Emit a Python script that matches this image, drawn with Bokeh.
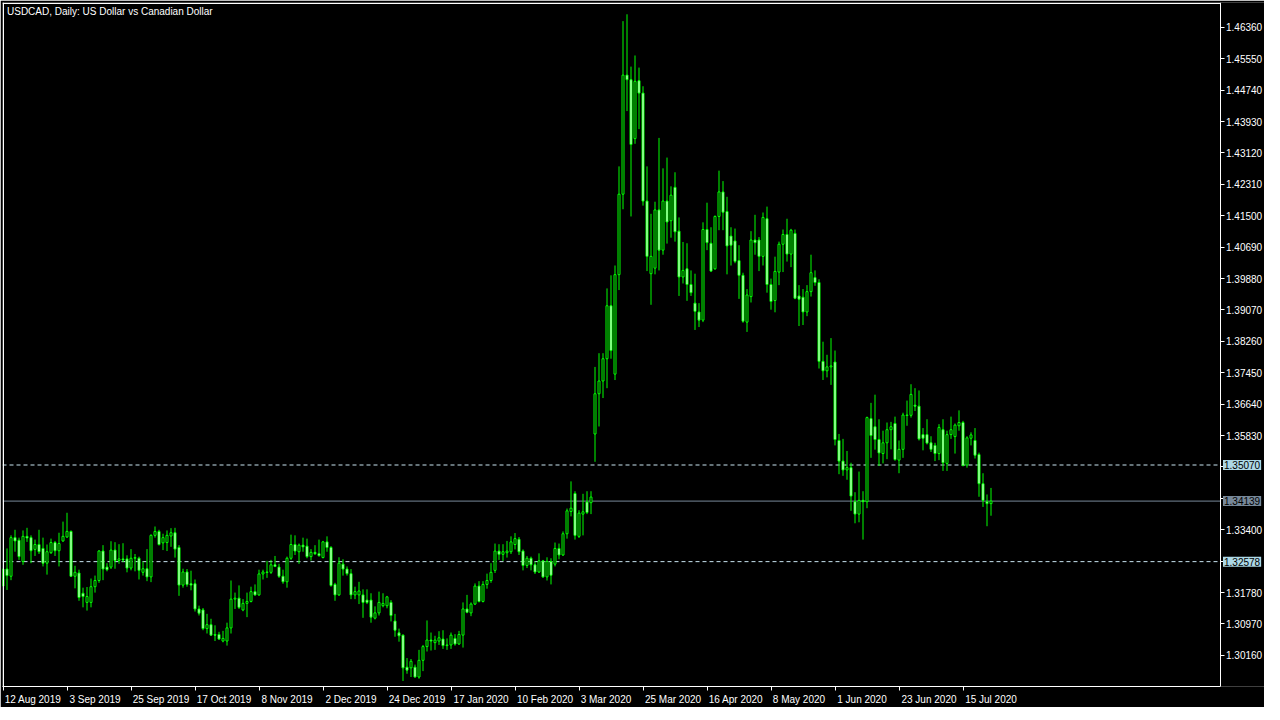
from bokeh.plotting import figure
from bokeh.models import (FixedTicker, PrintfTickFormatter, Label, Range1d, ColumnDataSource,
                          LinearAxis)
from bokeh.embed import file_html
from bokeh.resources import INLINE

# ---------------- data (USDCAD daily) ----------------
opens = [1.32387, 1.32387, 1.32201, 1.33197, 1.33129, 1.32581, 1.33230, 1.33197, 1.32893, 1.33019,
         1.32918, 1.32538, 1.32809, 1.33070, 1.32859, 1.33112, 1.33214, 1.33357, 1.32201, 1.32285,
         1.31762, 1.31526, 1.31526, 1.31931, 1.32091, 1.32851, 1.32437, 1.32437, 1.32876, 1.32606,
         1.32648, 1.32648, 1.32412, 1.32665, 1.32665, 1.32302, 1.32395, 1.32184, 1.33256, 1.33357,
         1.33062, 1.33070, 1.33239, 1.33323, 1.32943, 1.31973, 1.32311, 1.32007, 1.32007, 1.31357,
         1.31332, 1.30851, 1.30952, 1.30699, 1.30699, 1.30530, 1.30530, 1.30868, 1.31610, 1.31636,
         1.31332, 1.31501, 1.31551, 1.31804, 1.31720, 1.32260, 1.32311, 1.32302, 1.32496, 1.32437,
         1.32201, 1.32058, 1.32665, 1.33019, 1.32833, 1.33002, 1.32977, 1.32707, 1.32817, 1.32783,
         1.32682, 1.33087, 1.32943, 1.31990, 1.31720, 1.32513, 1.32386, 1.32268, 1.31720, 1.31720,
         1.31720, 1.31585, 1.31585, 1.31120, 1.31256, 1.31441, 1.31441, 1.31526, 1.31045, 1.30741,
         1.30682, 1.29855, 1.29838, 1.29855, 1.29602, 1.30032, 1.30386, 1.30555, 1.30488, 1.30530,
         1.30580, 1.30412, 1.30429, 1.30597, 1.30454, 1.30682, 1.31357, 1.31256, 1.31483, 1.31947,
         1.31551, 1.31990, 1.32091, 1.32352, 1.32850, 1.32766, 1.32808, 1.32833, 1.33019, 1.33154,
         1.32850, 1.32479, 1.32665, 1.32496, 1.32310, 1.32597, 1.32184, 1.32580, 1.32513, 1.32918,
         1.32749, 1.33297, 1.33871, 1.34335, 1.33230, 1.33804, 1.34116, 1.34099, 1.35870, 1.36908,
         1.37237, 1.37811, 1.39178, 1.37414, 1.39980, 1.42055, 1.45127, 1.45009, 1.43490, 1.44983,
         1.44663, 1.41878, 1.40005, 1.40148, 1.41650, 1.40612, 1.41878, 1.41372, 1.42232, 1.41102,
         1.39920, 1.40131, 1.39726, 1.39245, 1.39018, 1.38807, 1.41144, 1.40790, 1.40131, 1.41481,
         1.42114, 1.41608, 1.40975, 1.40849, 1.40342, 1.39963, 1.38756, 1.39414, 1.40874, 1.40874,
         1.40452, 1.41422, 1.39726, 1.39313, 1.40047, 1.40764, 1.41017, 1.40511, 1.41043, 1.39431,
         1.39398, 1.39018, 1.39542, 1.39904, 1.39778, 1.37744, 1.37500, 1.37601, 1.37727, 1.35703,
         1.35171, 1.34943, 1.35002, 1.34124, 1.33804, 1.34158, 1.34124, 1.36267, 1.36057, 1.35728,
         1.35365, 1.35643, 1.35981, 1.36141, 1.35196, 1.35474, 1.36360, 1.36352, 1.36614, 1.36588,
         1.35854, 1.35854, 1.35643, 1.35576, 1.35365, 1.35981, 1.35111, 1.35854, 1.35803, 1.36082,
         1.36166, 1.35070, 1.35761, 1.35703, 1.35340, 1.34588, 1.34124, 1.34074]
highs = [1.32412, 1.32918, 1.33256, 1.33399, 1.33197, 1.33382, 1.33450, 1.33256, 1.33146, 1.33399,
         1.33197, 1.33019, 1.33171, 1.33112, 1.33323, 1.33610, 1.33838, 1.33382, 1.32471, 1.32370,
         1.31906, 1.31923, 1.32142, 1.32218, 1.32876, 1.33003, 1.32538, 1.33104, 1.33079, 1.33028,
         1.33053, 1.32741, 1.32901, 1.32775, 1.32707, 1.32581, 1.32901, 1.33281, 1.33484, 1.33399,
         1.33298, 1.33382, 1.33441, 1.33450, 1.33003, 1.32395, 1.32387, 1.32344, 1.32117, 1.31442,
         1.31382, 1.31231, 1.31104, 1.30935, 1.30767, 1.30792, 1.31003, 1.32091, 1.31779, 1.31965,
         1.31610, 1.31779, 1.31931, 1.31990, 1.32370, 1.32370, 1.32598, 1.32623, 1.32724, 1.32522,
         1.32370, 1.32707, 1.33273, 1.33256, 1.33044, 1.33196, 1.33171, 1.32901, 1.33002, 1.33146,
         1.33112, 1.33230, 1.32977, 1.32032, 1.32690, 1.32639, 1.32454, 1.32386, 1.31931, 1.32057,
         1.31863, 1.31863, 1.31762, 1.31424, 1.31804, 1.31762, 1.31694, 1.31585, 1.31230, 1.30850,
         1.30699, 1.30091, 1.30066, 1.29922, 1.30302, 1.30429, 1.31061, 1.30749, 1.30665, 1.30783,
         1.30808, 1.30597, 1.30749, 1.30707, 1.30791, 1.31526, 1.31720, 1.31526, 1.32015, 1.32074,
         1.32074, 1.32268, 1.32538, 1.33044, 1.33027, 1.33027, 1.33112, 1.33230, 1.33314, 1.33213,
         1.32892, 1.32724, 1.32707, 1.32580, 1.32791, 1.32622, 1.32690, 1.32665, 1.33070, 1.33044,
         1.33357, 1.33947, 1.34648, 1.34394, 1.33905, 1.34327, 1.34394, 1.34394, 1.37600, 1.37954,
         1.37954, 1.39625, 1.39963, 1.40216, 1.42773, 1.46519, 1.46696, 1.45346, 1.45633, 1.45321,
         1.44840, 1.42773, 1.41549, 1.41861, 1.43507, 1.42722, 1.43000, 1.42258, 1.42621, 1.41456,
         1.40823, 1.40790, 1.40089, 1.40005, 1.39245, 1.41330, 1.41836, 1.41203, 1.41507, 1.42663,
         1.42393, 1.41988, 1.41203, 1.41169, 1.40739, 1.40030, 1.39608, 1.41102, 1.41524, 1.40950,
         1.41583, 1.41735, 1.39878, 1.40444, 1.40832, 1.41144, 1.41422, 1.41161, 1.41144, 1.39710,
         1.39609, 1.39710, 1.40495, 1.40090, 1.39862, 1.38251, 1.37913, 1.38343, 1.38023, 1.35871,
         1.35744, 1.35432, 1.35128, 1.34369, 1.34901, 1.34394, 1.36318, 1.36673, 1.36884, 1.36251,
         1.35955, 1.36166, 1.36183, 1.36318, 1.35703, 1.36419, 1.36732, 1.37154, 1.37052, 1.36993,
         1.36023, 1.36251, 1.35812, 1.35643, 1.36124, 1.36251, 1.35955, 1.36318, 1.36141, 1.36479,
         1.36209, 1.35812, 1.35913, 1.36023, 1.35390, 1.34858, 1.34310, 1.34479]
lows = [1.31931, 1.31847, 1.32100, 1.32834, 1.32623, 1.32496, 1.33087, 1.32538, 1.32724, 1.32775,
        1.32454, 1.32243, 1.32775, 1.32724, 1.32454, 1.33087, 1.33188, 1.32184, 1.31889, 1.31568,
        1.31399, 1.31315, 1.31399, 1.31779, 1.32032, 1.32100, 1.32328, 1.32387, 1.32395, 1.32522,
        1.32564, 1.32302, 1.32353, 1.32328, 1.32117, 1.32218, 1.32074, 1.32049, 1.33197, 1.32994,
        1.32876, 1.32851, 1.32960, 1.32682, 1.31695, 1.31906, 1.31931, 1.31838, 1.31290, 1.31188,
        1.30809, 1.30724, 1.30665, 1.30530, 1.30556, 1.30497, 1.30412, 1.30724, 1.31357, 1.31357,
        1.31298, 1.31146, 1.31526, 1.31695, 1.31695, 1.32117, 1.32159, 1.32260, 1.32437, 1.32159,
        1.32007, 1.31906, 1.32623, 1.32749, 1.32521, 1.32833, 1.32665, 1.32606, 1.32749, 1.32707,
        1.32665, 1.32833, 1.31931, 1.31568, 1.31694, 1.32217, 1.32217, 1.31610, 1.31610, 1.31483,
        1.31129, 1.31483, 1.31002, 1.31087, 1.31188, 1.31399, 1.31374, 1.31036, 1.30640, 1.30513,
        1.29500, 1.29686, 1.29602, 1.29585, 1.29559, 1.29754, 1.30260, 1.30285, 1.30302, 1.30429,
        1.30327, 1.30302, 1.30327, 1.30412, 1.30429, 1.30361, 1.31247, 1.31171, 1.31458, 1.31526,
        1.31526, 1.31880, 1.32032, 1.32285, 1.32622, 1.32597, 1.32682, 1.32774, 1.32892, 1.32749,
        1.32352, 1.32412, 1.32352, 1.32260, 1.32285, 1.32158, 1.32091, 1.31990, 1.32454, 1.32639,
        1.32724, 1.33171, 1.33745, 1.33146, 1.33188, 1.33255, 1.33804, 1.33804, 1.35153, 1.36064,
        1.36798, 1.37052, 1.37811, 1.37262, 1.39583, 1.41667, 1.44199, 1.41481, 1.43355, 1.43734,
        1.41760, 1.40072, 1.39203, 1.39988, 1.40089, 1.40494, 1.40781, 1.40933, 1.40832, 1.39431,
        1.39752, 1.39304, 1.39431, 1.38554, 1.38629, 1.38756, 1.40612, 1.40047, 1.40106, 1.41127,
        1.41127, 1.39988, 1.40216, 1.40275, 1.39355, 1.38739, 1.38503, 1.39262, 1.40494, 1.40072,
        1.40216, 1.39515, 1.39077, 1.39009, 1.39710, 1.40047, 1.40317, 1.40174, 1.39347, 1.38655,
        1.38681, 1.38909, 1.39415, 1.39693, 1.37559, 1.37263, 1.37331, 1.37137, 1.35576, 1.34833,
        1.34791, 1.34690, 1.33888, 1.33567, 1.33593, 1.33146, 1.33956, 1.35255, 1.35466, 1.35044,
        1.35112, 1.35221, 1.35474, 1.35179, 1.34858, 1.35255, 1.36082, 1.36293, 1.36462, 1.35703,
        1.35449, 1.35601, 1.35407, 1.35171, 1.35196, 1.34918, 1.34918, 1.35744, 1.35365, 1.35955,
        1.35044, 1.35002, 1.35576, 1.35238, 1.34251, 1.33989, 1.33491, 1.33762]
closes = [1.31948, 1.32218, 1.33197, 1.33112, 1.32707, 1.33230, 1.33188, 1.32859, 1.33019, 1.32834,
          1.32538, 1.32834, 1.33070, 1.32859, 1.33045, 1.33230, 1.33357, 1.32201, 1.32302, 1.31653,
          1.31678, 1.31678, 1.31931, 1.32091, 1.32851, 1.32387, 1.32370, 1.32876, 1.32606, 1.32648,
          1.32623, 1.32412, 1.32665, 1.32682, 1.32353, 1.32395, 1.32184, 1.33256, 1.33357, 1.33019,
          1.33197, 1.33256, 1.33323, 1.32901, 1.31973, 1.32311, 1.31990, 1.31973, 1.31357, 1.31248,
          1.30851, 1.30952, 1.30682, 1.30682, 1.30581, 1.30598, 1.30868, 1.31610, 1.31636, 1.31399,
          1.31501, 1.31551, 1.31804, 1.31720, 1.32260, 1.32311, 1.32302, 1.32496, 1.32454, 1.32201,
          1.32058, 1.32665, 1.33019, 1.32851, 1.33002, 1.32960, 1.32707, 1.32817, 1.32783, 1.32732,
          1.33087, 1.32943, 1.31964, 1.31720, 1.32538, 1.32386, 1.32268, 1.31720, 1.31804, 1.31821,
          1.31526, 1.31526, 1.31146, 1.31256, 1.31526, 1.31500, 1.31669, 1.31188, 1.30808, 1.30665,
          1.29838, 1.29779, 1.30007, 1.29602, 1.30032, 1.30386, 1.30555, 1.30530, 1.30555, 1.30614,
          1.30412, 1.30429, 1.30682, 1.30454, 1.30699, 1.31357, 1.31272, 1.31483, 1.31947, 1.31551,
          1.31990, 1.32091, 1.32302, 1.32850, 1.32766, 1.32833, 1.32850, 1.33087, 1.33171, 1.32833,
          1.32479, 1.32665, 1.32496, 1.32310, 1.32597, 1.32184, 1.32580, 1.32226, 1.32918, 1.32749,
          1.33297, 1.33888, 1.33956, 1.33255, 1.33829, 1.33863, 1.33846, 1.34243, 1.36908, 1.37237,
          1.37811, 1.39178, 1.38022, 1.39980, 1.42055, 1.45127, 1.45009, 1.43338, 1.44966, 1.44663,
          1.41878, 1.40452, 1.40452, 1.41650, 1.40612, 1.41878, 1.41338, 1.42030, 1.41085, 1.39920,
          1.40089, 1.39726, 1.39515, 1.39034, 1.38807, 1.41144, 1.40806, 1.40072, 1.41481, 1.42114,
          1.41591, 1.40722, 1.40739, 1.40325, 1.39963, 1.38781, 1.39456, 1.40874, 1.40806, 1.40452,
          1.41456, 1.39726, 1.39288, 1.40064, 1.40764, 1.41017, 1.40511, 1.41127, 1.39372, 1.39347,
          1.39018, 1.39542, 1.40031, 1.39778, 1.37744, 1.37500, 1.37601, 1.37626, 1.35728, 1.35171,
          1.34943, 1.35002, 1.34268, 1.33804, 1.34158, 1.34124, 1.36293, 1.35829, 1.35728, 1.35382,
          1.35643, 1.35981, 1.36057, 1.35213, 1.35474, 1.36360, 1.36352, 1.36892, 1.36588, 1.35744,
          1.35761, 1.35635, 1.35474, 1.35365, 1.36040, 1.35128, 1.35854, 1.35981, 1.36099, 1.36166,
          1.35053, 1.35770, 1.35846, 1.35323, 1.34588, 1.34158, 1.34074, 1.34139]

date_labels = ["12 Aug 2019", "3 Sep 2019", "25 Sep 2019", "17 Oct 2019", "8 Nov 2019",
               "2 Dec 2019", "24 Dec 2019", "17 Jan 2020", "10 Feb 2020", "3 Mar 2020",
               "25 Mar 2020", "16 Apr 2020", "8 May 2020", "1 Jun 2020", "23 Jun 2020",
               "15 Jul 2020"]
date_bars = [0, 16, 32, 48, 64, 80, 96, 112, 128, 144, 160, 176, 192, 208, 224, 240]

price_ticks = [1.46360, 1.45550, 1.44740, 1.43930, 1.43120, 1.42310, 1.41500, 1.40690,
               1.39880, 1.39070, 1.38260, 1.37450, 1.36640, 1.35830, 1.35020, 1.34210,
               1.33400, 1.32590, 1.31780, 1.30970, 1.30160]
hidden_ticks = [1.35020, 1.34210, 1.32590]      # covered by the price tags

dashed_levels = [1.35070, 1.32578]
bid_level = 1.34139
chart_title = "USDCAD, Daily:  US Dollar vs Canadian Dollar"

# ---------------- figure ----------------
GREEN = "#00ff00"
FONT = "Liberation Sans"
FW, FH = 1262, 684
PXB = 4.0                          # pixels per bar
X0 = -0.125
X1 = X0 + FW / PXB
XB = X0 + 1217.5 / PXB             # chart border (price scale starts right of it)
Y0, Y1 = 1.29357, 1.47000
DY = (Y1 - Y0) / FH                # one pixel in price units

p = figure(frame_width=FW, frame_height=FH,
           x_range=Range1d(X0, X1), y_range=Range1d(Y0, Y1),
           y_axis_location=None, title=None,
           output_backend="svg", toolbar_location=None,
           min_border_left=2, min_border_top=2, min_border_right=0, min_border_bottom=0)
p.background_fill_color = "black"
p.border_fill_color = "black"
p.outline_line_color = None
p.grid.visible = False
xa = p.below[0]                    # the date axis

idx = list(range(len(opens)))
body_top = [max(o, c) for o, c in zip(opens, closes)]
body_bot = [min(o, c) for o, c in zip(opens, closes)]
body_bot = [b if t - b > DY * 0.5 else t - DY * 0.5 for t, b in zip(body_top, body_bot)]
fills = ["black" if c >= o else "white" for o, c in zip(opens, closes)]
src = ColumnDataSource(dict(x=idx, high=highs, low=lows, top=body_top, bot=body_bot, fill=fills))

# level lines (stop at the chart border)
p.segment(x0=[X0] * 2, y0=dashed_levels, x1=[XB] * 2, y1=dashed_levels,
          line_color="#c8e4f0", line_dash="4 3", line_width=1)
p.segment(x0=[X0], y0=[bid_level], x1=[XB], y1=[bid_level], line_color="#778899", line_width=1)

p.segment(x0="x", y0="low", x1="x", y1="high", source=src, line_color=GREEN, line_width=1)
p.vbar(x="x", width=0.5, top="top", bottom="bot", source=src,
       fill_color="fill", line_color=GREEN, line_width=1)


def border_axis(loc, bounds):
    return LinearAxis(fixed_location=loc, bounds=bounds,
                      ticker=FixedTicker(ticks=[], minor_ticks=[]),
                      axis_line_color="white", major_tick_line_color=None,
                      minor_tick_line_color=None, major_label_text_alpha=0)


# left and top border lines of the chart box
p.add_layout(border_axis(X0 + 0.125, (Y0, Y1)), "left")
p.add_layout(border_axis(Y1 - DY * 0.5, (X0, XB)), "above")

# right price scale, drawn at the chart border
ya = LinearAxis(fixed_location=XB, bounds=(Y0, Y1))
ya.ticker = FixedTicker(ticks=price_ticks, minor_ticks=[])
ya.formatter = PrintfTickFormatter(format="%.5f")
ya.major_label_overrides = {t: "" for t in hidden_ticks}
ya.axis_line_color = "white"
ya.major_tick_line_color = "white"
ya.major_tick_out = 4
ya.major_tick_in = 0
ya.minor_tick_out = 0
ya.minor_tick_in = 0
ya.major_label_standoff = 2
ya.major_label_text_color = "white"
ya.major_label_text_font = FONT
ya.major_label_text_font_size = "10px"
p.add_layout(ya, "right")

# bottom date axis: tick marks at the bar, text starting right of it
CW = {" ": 278, "A": 667, "S": 667, "O": 778, "N": 722, "D": 722, "F": 611, "M": 833,
      "J": 500, "u": 556, "g": 556, "e": 556, "p": 556, "c": 500, "t": 278, "o": 556,
      "v": 500, "b": 556, "r": 333, "n": 556, "y": 500, "l": 222, "a": 556}
centers = []
overrides = {}
for b, lab in zip(date_bars, date_labels):
    wpx = sum(CW.get(ch, 556) for ch in lab) / 1000 * 10
    c = round((b + (wpx / 2 + 2) / PXB) * 4) / 4
    centers.append(c)
    overrides[c] = lab
xa.bounds = (X0, XB)
xa.ticker = FixedTicker(ticks=centers, minor_ticks=date_bars)
xa.major_label_overrides = overrides
xa.axis_line_color = "white"
xa.major_tick_out = 0
xa.major_tick_in = 0
xa.minor_tick_out = 4
xa.minor_tick_in = 0
xa.minor_tick_line_color = "white"
xa.major_label_standoff = 3
xa.major_label_text_color = "white"
xa.major_label_text_font = FONT
xa.major_label_text_font_size = "10px"

# price tags on the scale
tag_x = XB + 0.75
for lv, bg in [(dashed_levels[0], "#add8e6"), (bid_level, "#778899"), (dashed_levels[1], "#add8e6")]:
    p.add_layout(Label(x=tag_x, y=lv, text=f"{lv:.5f}", text_align="left",
                       text_baseline="middle", text_color="black", text_font=FONT,
                       text_font_size="10px", background_fill_color=bg,
                       background_fill_alpha=1.0, padding=1))

# chart caption inside the box
p.add_layout(Label(x=1.0, y=Y1 - DY * 9, text=chart_title, text_align="left",
                   text_baseline="middle", text_color="white", text_font=FONT,
                   text_font_size="10px"))

open("out.html", "w").write(file_html(p, INLINE))
